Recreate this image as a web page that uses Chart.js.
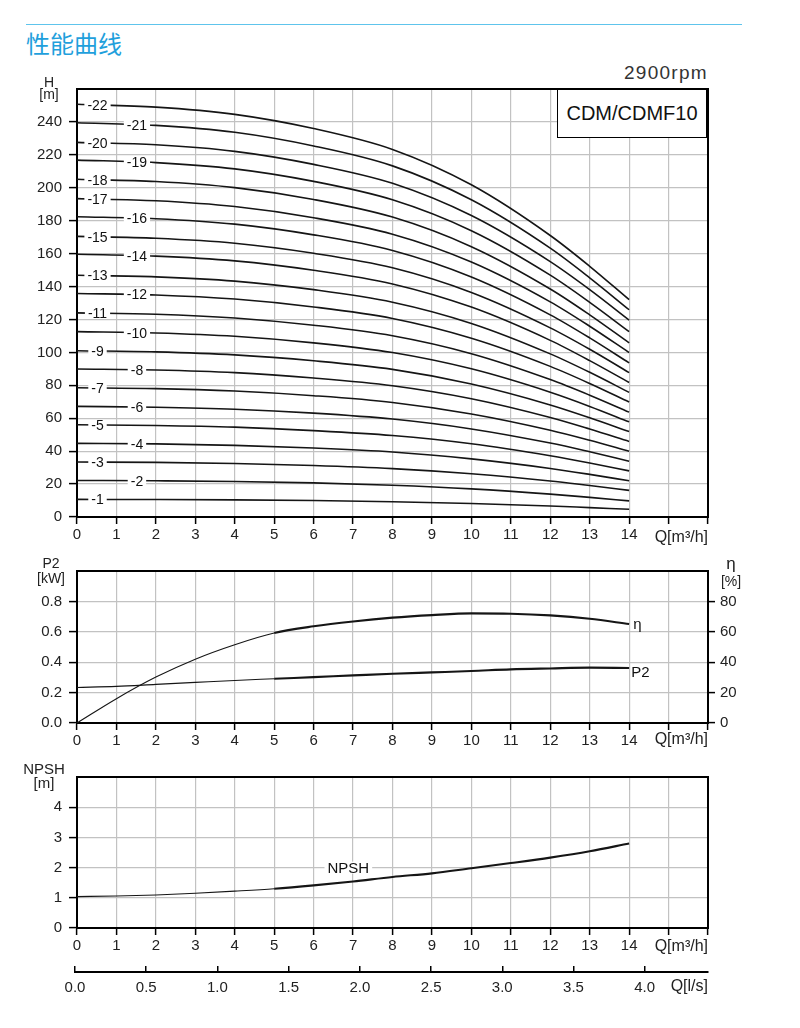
<!DOCTYPE html>
<html>
<head>
<meta charset="utf-8">
<script src="https://cdn.jsdelivr.net/npm/chart.js@4.4.1/dist/chart.umd.min.js"></script>
<style>
body { margin: 0; background: #fff; width: 800px; height: 1028px; position: relative; overflow: hidden;
       font-family: 'Liberation Sans', Arial, sans-serif; color: #222; }
canvas { position: absolute; left: 0; }
.t { position: absolute; white-space: nowrap; }
.unit { position: absolute; text-align: center; font-size: 14px; line-height: 13px; }
</style>
</head>
<body>
<div style="position:absolute;left:26px;top:24px;width:716px;height:1px;background:#5ec4ec"></div>
<div class="t" style="left:26px;top:28px;font-family:'Noto Sans CJK SC';font-size:24px;line-height:30px;color:#1fa0dc">性能曲线</div>
<div class="t" style="right:92px;top:63px;font-size:19px;line-height:19px;letter-spacing:1.3px;color:#333">2900rpm</div>

<canvas id="headChart" width="800" height="485" style="top:60px"></canvas>
<canvas id="powerChart" width="800" height="206" style="top:545px"></canvas>
<canvas id="npshChart" width="800" height="206" style="top:750px"></canvas>
<canvas id="lpsAxis" width="800" height="45" style="top:956px"></canvas>

<div style="position:absolute;left:557px;top:89px;width:150px;height:49px;box-sizing:border-box;border:1.5px solid #000;background:#fff;text-align:center;font-size:20px;line-height:46px;color:#111">CDM/CDMF10</div>

<div class="unit" style="left:29px;top:76px;width:40px;line-height:12px">H<br>[m]</div>
<div class="unit" style="left:31px;top:556px;width:40px;line-height:15px">P2<br>[kW]</div>
<div class="unit" style="left:711px;top:555px;width:40px;line-height:17px"><span style="font-size:17px">η</span><br>[%]</div>
<div class="unit" style="left:19px;top:762px;width:50px;font-size:15px;line-height:14px">NPSH<br>[m]</div>

<div class="t" style="right:92px;top:529px;font-size:16px;line-height:16px">Q[m³/h]</div>
<div class="t" style="right:92px;top:731px;font-size:16px;line-height:16px">Q[m³/h]</div>
<div class="t" style="right:92px;top:938px;font-size:16px;line-height:16px">Q[m³/h]</div>
<div class="t" style="right:92px;top:978px;font-size:16px;line-height:16px">Q[l/s]</div>

<script>
// flow points where the head curves were read
const qPoints = [0, 2, 4, 6, 8, 10, 12, 13, 14];

// H [m] per number of stages
const h01 = [10.7, 10.6, 10.4, 10.0, 9.3, 8.2, 6.7, 5.7, 4.7];
const h02 = [22.2, 22.0, 21.6, 20.7, 19.3, 17.1, 13.9, 11.9, 9.8];
const h03 = [33.4, 33.2, 32.5, 31.3, 29.4, 26.3, 21.9, 19.1, 16.2];
const h04 = [44.7, 44.4, 43.5, 41.9, 39.5, 35.3, 29.5, 25.9, 22.0];
const h05 = [56.0, 55.6, 54.6, 52.5, 49.5, 44.5, 37.2, 32.8, 28.0];
const h06 = [67.2, 66.7, 65.5, 63.1, 59.5, 53.5, 44.9, 39.6, 33.9];
const h07 = [78.5, 78.0, 76.5, 73.7, 69.6, 62.6, 52.7, 46.6, 40.0];
const h08 = [89.9, 89.3, 87.7, 84.4, 79.7, 71.8, 60.4, 53.4, 45.9];
const h09 = [101.0, 100.3, 98.5, 94.9, 89.7, 80.8, 68.1, 60.3, 51.9];
const h10 = [112.6, 111.8, 109.8, 105.8, 99.9, 90.0, 75.8, 67.2, 57.8];
const h11 = [124.0, 123.2, 120.9, 116.5, 110.1, 99.2, 83.5, 74.0, 63.7];
const h12 = [135.8, 134.9, 132.4, 127.6, 120.6, 108.6, 91.5, 81.1, 69.8];
const h13 = [146.9, 145.9, 143.3, 138.1, 130.5, 117.6, 99.1, 87.9, 75.7];
const h14 = [159.6, 158.5, 155.6, 149.9, 141.6, 127.5, 107.3, 95.0, 81.7];
const h15 = [170.5, 169.3, 166.3, 160.2, 151.4, 136.4, 114.9, 101.9, 87.7];
const h16 = [182.4, 181.2, 177.9, 171.4, 161.9, 145.8, 122.8, 108.8, 93.6];
const h17 = [193.4, 192.1, 188.6, 181.8, 171.8, 154.9, 130.7, 115.9, 99.9];
const h18 = [205.2, 203.8, 200.1, 192.9, 182.2, 164.2, 138.5, 122.8, 105.8];
const h19 = [216.8, 215.3, 211.5, 203.9, 192.7, 173.9, 146.9, 130.4, 112.6];
const h20 = [227.6, 226.1, 222.1, 214.2, 202.7, 183.1, 155.1, 138.1, 119.6];
const h21 = [239.5, 237.9, 233.7, 225.4, 213.3, 192.7, 163.3, 145.3, 125.9];
const h22 = [250.7, 249.0, 244.6, 236.0, 223.3, 201.8, 171.0, 152.3, 132.0];
const headCurves = [h01, h02, h03, h04, h05, h06, h07, h08, h09, h10, h11,
                    h12, h13, h14, h15, h16, h17, h18, h19, h20, h21, h22];
const stageNames = ['-1', '-2', '-3', '-4', '-5', '-6', '-7', '-8', '-9', '-10', '-11',
                    '-12', '-13', '-14', '-15', '-16', '-17', '-18', '-19', '-20', '-21', '-22'];
const labelSide = ['L', 'R', 'L', 'R', 'L', 'R', 'L', 'R', 'L', 'R', 'L',
                   'R', 'L', 'R', 'L', 'R', 'L', 'L', 'R', 'L', 'R', 'L'];

// power / efficiency / NPSH, read at every 1 m3/h
const qFine = [0, 1, 2, 3, 4, 5, 6, 7, 8, 9, 10, 11, 12, 13, 14];
const etaValues = [0, 16, 30.2, 42, 51.5, 59.2, 63.6, 66.8, 69.3, 71, 72.1, 71.9, 70.8, 68.6, 65.1];
const p2Values = [0.234, 0.241, 0.254, 0.267, 0.28, 0.291, 0.302, 0.313, 0.324, 0.333, 0.342, 0.353, 0.359, 0.364, 0.362];
const npshValues = [1.04, 1.06, 1.095, 1.15, 1.22, 1.30, 1.41, 1.54, 1.69, 1.81, 1.98, 2.15, 2.33, 2.54, 2.8];

Chart.defaults.font.family = "'Liberation Sans', Arial, sans-serif";
Chart.defaults.font.size = 15;
Chart.defaults.color = '#222';
Chart.defaults.animation = false;
Chart.defaults.plugins.legend.display = false;
Chart.defaults.plugins.tooltip.enabled = false;

const GRID = '#c2c2c2';
const LINE = '#151515';
const LABEL_FONT = "14px 'Liberation Sans', Arial, sans-serif";

const toPoints = (xs, ys) => xs.map((x, i) => ({ x: x, y: ys[i] }));
const hideTop = max => c => (c.tick && c.tick.value >= max - 1e-9) ? 'rgba(0,0,0,0)' : '#000';

function flowAxis() {
    return {
        type: 'linear', min: 0, max: 16,
        ticks: { stepSize: 1, autoSkip: false, maxRotation: 0, padding: 2,
                 callback: v => v <= 14 ? v : '' },
        grid: { color: GRID, lineWidth: 1.2, tickLength: 7, tickColor: '#000', tickWidth: 1.5 },
        border: { color: '#000', width: 2 },
        afterFit: s => { s.height = 28; }
    };
}

function valueAxis(max, step, fmt, position, width) {
    return {
        type: 'linear', position: position, min: 0, max: max,
        ticks: { stepSize: step, padding: position === 'left' ? 7 : 5,
                 callback: v => v >= max - 1e-9 ? '' : fmt(v) },
        grid: { color: GRID, lineWidth: 1.2, drawOnChartArea: position === 'left',
                tickLength: position === 'left' ? 8 : 7, tickColor: hideTop(max), tickWidth: 1.5 },
        border: { color: '#000', width: 2 },
        afterFit: s => { s.width = width; }
    };
}

const framePlugin = {
    id: 'frame',
    beforeDatasetsDraw(chart) {
        const { ctx, chartArea: a } = chart;
        ctx.save();
        ctx.strokeStyle = '#000';
        ctx.lineWidth = 2;
        ctx.strokeRect(a.left, a.top, a.right - a.left, a.bottom - a.top);
        ctx.restore();
    }
};

// stage numbers sit in a gap of the curve near the left edge
const stageLabelPlugin = {
    id: 'stageLabels',
    afterDatasetsDraw(chart) {
        const ctx = chart.ctx, xs = chart.scales.x, ys = chart.scales.y;
        ctx.save();
        ctx.font = LABEL_FONT;
        ctx.textAlign = 'center';
        ctx.textBaseline = 'middle';
        headCurves.forEach((arr, i) => {
            const q = labelSide[i] === 'L' ? 0.52 : 1.52;
            const h = arr[0] + (arr[1] - arr[0]) * q / (qPoints[1] - qPoints[0]);
            const px = xs.getPixelForValue(q), py = ys.getPixelForValue(h);
            const w = ctx.measureText(stageNames[i]).width;
            ctx.fillStyle = '#fff';
            ctx.fillRect(px - w / 2 - 3, py - 5, w + 6, 10);
            ctx.fillStyle = '#111';
            ctx.fillText(stageNames[i], px, py + 1);
        });
        ctx.restore();
    }
};

new Chart(document.getElementById('headChart'), {
    type: 'line',
    data: {
        datasets: headCurves.map(arr => ({
            data: toPoints(qPoints, arr),
            borderColor: LINE,
            borderWidth: 1.6,
            pointRadius: 0,
            cubicInterpolationMode: 'monotone',
            fill: false
        }))
    },
    options: {
        responsive: false,
        layout: { padding: { top: 29, right: 92, left: 0, bottom: 0 } },
        scales: {
            x: flowAxis(),
            y: valueAxis(260, 20, v => v, 'left', 77)
        }
    },
    plugins: [framePlugin, stageLabelPlugin]
});

const thinThenThick = { borderWidth: c => c.p0.parsed.x >= 5 ? 2.1 : 1.1 };

new Chart(document.getElementById('powerChart'), {
    type: 'line',
    data: {
        datasets: [{
            data: toPoints(qFine, etaValues),
            yAxisID: 'y1',
            borderColor: LINE,
            pointRadius: 0,
            cubicInterpolationMode: 'monotone',
            segment: thinThenThick
        }, {
            data: toPoints(qFine, p2Values),
            yAxisID: 'y',
            borderColor: LINE,
            pointRadius: 0,
            cubicInterpolationMode: 'monotone',
            segment: thinThenThick
        }]
    },
    options: {
        responsive: false,
        layout: { padding: { top: 26, right: 0, left: 0, bottom: 0 } },
        scales: {
            x: flowAxis(),
            y: valueAxis(1, 0.2, v => v.toFixed(1), 'left', 77),
            y1: valueAxis(100, 20, v => v, 'right', 92)
        }
    },
    plugins: [framePlugin, {
        id: 'curveNames',
        afterDatasetsDraw(chart) {
            const ctx = chart.ctx, xs = chart.scales.x;
            const last = qFine.length - 1;
            ctx.save();
            ctx.font = "15px 'Liberation Sans', Arial, sans-serif";
            ctx.fillStyle = '#111';
            ctx.textAlign = 'left';
            ctx.textBaseline = 'middle';
            ctx.fillText('η', xs.getPixelForValue(qFine[last]) + 4, chart.scales.y1.getPixelForValue(etaValues[last]) + 1);
            ctx.fillText('P2', xs.getPixelForValue(qFine[last]) + 2, chart.scales.y.getPixelForValue(p2Values[last]) + 5);
            ctx.restore();
        }
    }]
});

new Chart(document.getElementById('npshChart'), {
    type: 'line',
    data: {
        datasets: [{
            data: toPoints(qFine, npshValues),
            borderColor: LINE,
            pointRadius: 0,
            cubicInterpolationMode: 'monotone',
            segment: thinThenThick
        }]
    },
    options: {
        responsive: false,
        layout: { padding: { top: 27, right: 92, left: 0, bottom: 0 } },
        scales: {
            x: flowAxis(),
            y: valueAxis(5, 1, v => v, 'left', 77)
        }
    },
    plugins: [framePlugin, {
        id: 'npshName',
        afterDatasetsDraw(chart) {
            const ctx = chart.ctx;
            const px = chart.scales.x.getPixelForValue(6.88), py = chart.scales.y.getPixelForValue(2);
            ctx.save();
            ctx.font = "15px 'Liberation Sans', Arial, sans-serif";
            ctx.textAlign = 'center';
            ctx.textBaseline = 'middle';
            const w = ctx.measureText('NPSH').width;
            ctx.fillStyle = '#fff';
            ctx.fillRect(px - w / 2 - 3, py - 6, w + 6, 12);
            ctx.fillStyle = '#111';
            ctx.fillText('NPSH', px, py + 1);
            ctx.restore();
        }
    }]
});

// secondary flow scale in l/s (16 m3/h = 4.44 l/s)
new Chart(document.getElementById('lpsAxis'), {
    type: 'scatter',
    data: { datasets: [] },
    options: {
        responsive: false,
        layout: { padding: { top: 10, right: 92, left: 75, bottom: 0 } },
        scales: {
            x: {
                type: 'linear', min: 0, max: 16 / 3.6,
                ticks: { stepSize: 0.5, includeBounds: false, autoSkip: false, maxRotation: 0,
                         padding: 7, callback: v => v.toFixed(1) },
                grid: { color: '#000', lineWidth: 1.5, drawTicks: false },
                border: { color: '#000', width: 2 },
                afterFit: s => { s.height = 29; }
            },
            y: { display: false, min: 0, max: 1 }
        }
    }
});
</script>
</body>
</html>
